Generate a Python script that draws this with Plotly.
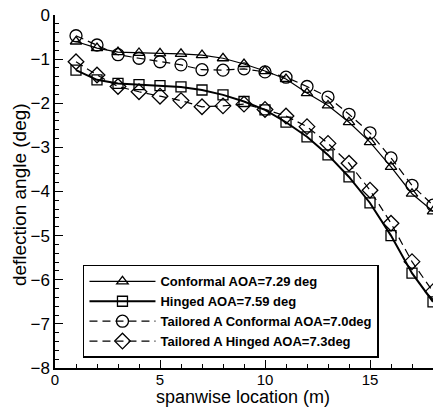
import plotly.graph_objects as go

span = [1, 2, 3, 4, 5, 6, 7, 8, 9, 10, 11, 12, 13, 14, 15, 16, 17, 18]

conformal = [-0.60, -0.75, -0.84, -0.86, -0.87, -0.88, -0.91, -0.98, -1.11, -1.27,
             -1.45, -1.77, -2.05, -2.43, -2.88, -3.44, -4.05, -4.45]
hinged = [-1.25, -1.47, -1.55, -1.58, -1.60, -1.63, -1.70, -1.81, -1.96, -2.15,
          -2.43, -2.76, -3.17, -3.67, -4.26, -5.00, -5.85, -6.50]
tail_conf = [-0.47, -0.68, -0.90, -0.98, -1.06, -1.13, -1.24, -1.25, -1.22, -1.29,
             -1.41, -1.62, -1.86, -2.25, -2.67, -3.24, -3.86, -4.31]
tail_hinged = [-1.06, -1.36, -1.62, -1.74, -1.84, -1.94, -2.08, -2.06, -2.02, -2.14,
               -2.29, -2.53, -2.91, -3.36, -3.97, -4.72, -5.59, -6.27]

names = ["Conformal AOA=7.29 deg", "Hinged AOA=7.59 deg",
         "Tailored A Conformal AOA=7.0deg", "Tailored A Hinged AOA=7.3deg"]
x_title = "spanwise location (m)"
y_title = "deflection angle (deg)"

fig = go.Figure()
specs = [
    (conformal, "triangle-up-open", "solid", 1.2, 10),
    (hinged, "square-open", "solid", 2.0, 10),
    (tail_conf, "circle-open", "8px,5px", 1.2, 12),
    (tail_hinged, "diamond-open", "8px,5px", 1.2, 12),
]
for (ys, sym, dash, lw, ms), nm in zip(specs, names):
    fig.add_trace(go.Scatter(
        x=span, y=ys, name=nm, mode="lines+markers",
        line=dict(color="black", width=lw, dash=dash),
        marker=dict(symbol=sym, size=ms, color="black", line=dict(color="black", width=1.3)),
    ))

fig.update_layout(
    width=436, height=408,
    margin=dict(l=55, r=3, t=15, b=40, autoexpand=False),
    paper_bgcolor="white", plot_bgcolor="white",
    font=dict(family="Liberation Sans, Arial, sans-serif", color="black", size=15),
    legend=dict(
        x=0.074, y=0.292, xanchor="left", yanchor="top",
        bordercolor="black", borderwidth=1.5, bgcolor="white",
        font=dict(size=13, weight="bold"), itemwidth=66,
        tracegroupgap=0,
    ),
    showlegend=True,
    annotations=[
        dict(text=x_title, xref="paper", yref="paper", x=0.497, y=-0.083,
             xanchor="center", yanchor="middle", showarrow=False,
             font=dict(size=18)),
        dict(text=y_title, xref="paper", yref="paper", x=-0.095, y=0.49,
             xanchor="center", yanchor="middle", showarrow=False, textangle=-90,
             font=dict(size=19)),
    ],
)
fig.update_xaxes(
    range=[0, 18], tickvals=[0, 5, 10, 15], ticks="inside", ticklen=8,
    tickcolor="black", showline=True, linecolor="black", linewidth=1.5,
    showgrid=False, zeroline=False, automargin=False, ticklabeloverflow="allow",
    ticklabelstandoff=-3,
    minor=dict(dtick=1, ticks="inside", ticklen=4, tickcolor="black"),
    tickfont=dict(size=15),
)
fig.update_yaxes(
    range=[-8, 0], dtick=1, ticks="inside", ticklen=8,
    tickcolor="black", showline=True, linecolor="black", linewidth=1.5,
    showgrid=False, zeroline=False, automargin=False, ticklabeloverflow="allow",
    minor=dict(dtick=0.2, ticks="inside", ticklen=4, tickcolor="black"),
    tickfont=dict(size=17),
)

fig.write_html("out.html", config={"displayModeBar": False},
               post_script="document.body.style.margin='0';")
